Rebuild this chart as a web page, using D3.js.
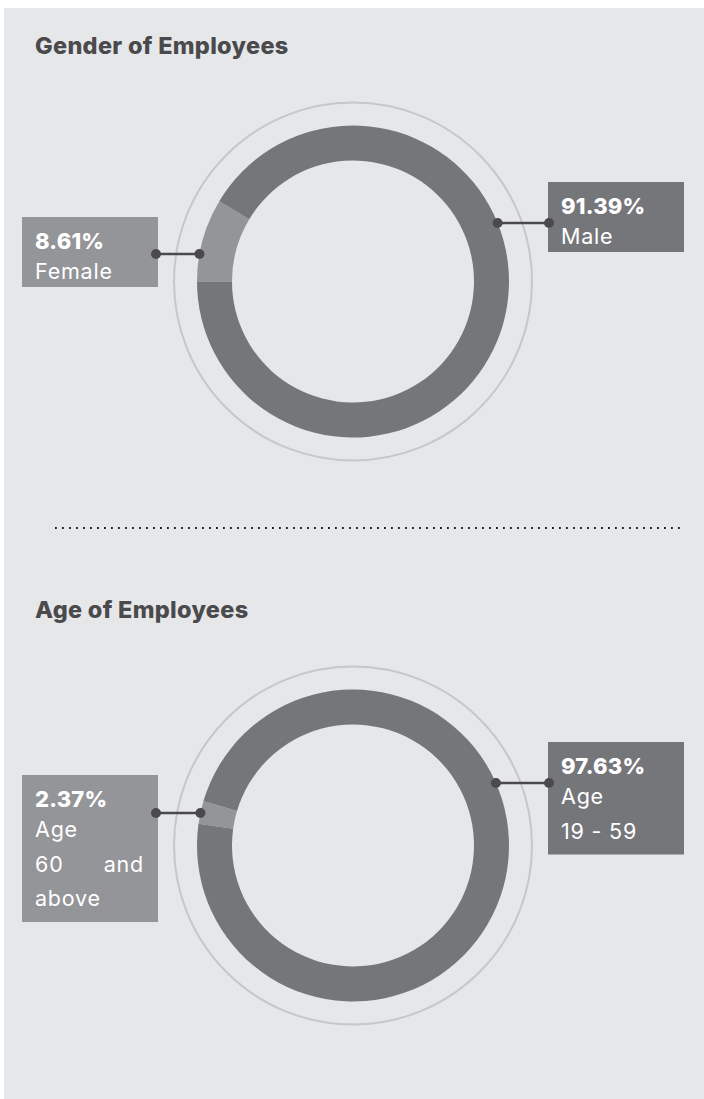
<!DOCTYPE html>
<html>
<head>
<meta charset="utf-8">
<script src="https://cdn.jsdelivr.net/npm/d3@7"></script>
<style>
  body { margin: 0; background: #fff; }
  text { font-family: Inter, "Open Sans", sans-serif; }
</style>
</head>
<body>
<div id="viz"></div>
<script>
// chart values
var genderLabels = ["Female", "Male"],
    genderValues = [8.61, 91.39],
    genderLines = [["Female"], ["Male"]];

var ageLabels = ["Age 60 and above", "Age 19 - 59"],
    ageValues = [2.37, 97.63],
    ageLines = [["Age", "60 and", "above"], ["Age", "19 - 59"]];

var width = 704,
    height = 1099;

var colors = ["#949598", "#75767a"],
    ink = "#4a4a4d";

var outerR = 156, innerR = 121, ringR = 179;

var svg = d3.select('#viz').append('svg')
  .attr('width', width)
  .attr('height', height);

svg.append('rect')
  .attr('x', 4).attr('y', 8)
  .attr('width', width - 4).attr('height', height - 8)
  .attr('fill', '#e6e7e9');

var charts = [
  { title: "Gender of Employees", titleY: 54, cx: 353, cy: 281.5, start: -90,
    labels: genderLabels, values: genderValues, lines: genderLines,
    // box top and leader y, relative to the center: [left, right]
    boxTop: [-64.5, -99.5], lead: [-27.5, -58.5] },
  { title: "Age of Employees", titleY: 618, cx: 353, cy: 845.5, start: -82,
    labels: ageLabels, values: ageValues, lines: ageLines,
    boxTop: [-70.5, -103.5], lead: [-32.5, -62.5] }
];

var arc = d3.arc().innerRadius(innerR).outerRadius(outerR);

function bodyText(sel) {
  return sel.attr('fill', '#fff')
    .attr('font-size', 21.5)
    .attr('font-weight', 400)
    .attr('letter-spacing', 0.8);
}

charts.forEach(function(c) {
  svg.append('text')
    .attr('x', 35).attr('y', c.titleY)
    .attr('fill', ink)
    .attr('font-size', 23.5)
    .attr('font-weight', 800)
    .attr('letter-spacing', 0.3)
    .text(c.title);

  var s = c.start * Math.PI / 180;
  var pie = d3.pie().sort(null).startAngle(s).endAngle(s + 2 * Math.PI);
  var arcs = pie(c.values);

  var g = svg.append('g')
    .attr('transform', 'translate(' + c.cx + ',' + c.cy + ')');

  g.append('circle')
    .attr('r', ringR)
    .attr('fill', 'none')
    .attr('stroke', '#c6c7c9')
    .attr('stroke-width', 2);

  g.selectAll('path.slice')
    .data(arcs)
    .join('path')
    .attr('class', 'slice')
    .attr('fill', (d, i) => colors[i])
    .attr('d', arc);

  // labels: index 0 on the left, index 1 on the right
  arcs.forEach(function(d, i) {
    var side = i === 0 ? -1 : 1;
    var ly = c.lead[i];
    var dotX = side * Math.sqrt(outerR * outerR - ly * ly);
    var boxW = 136;
    var boxX = side < 0 ? -c.cx + 22 : -c.cx + 548;
    var nearX = side < 0 ? boxX + boxW - 2 : boxX + 1;
    var lines = c.lines[i];
    var boxH = 32 + 30 + (lines.length - 1) * 34.5 + 16;
    if (lines.length === 1) boxH = 70;

    var box = g.append('g');
    box.append('rect')
      .attr('x', boxX).attr('y', c.boxTop[i])
      .attr('width', boxW).attr('height', boxH)
      .attr('fill', colors[i]);

    var tx = boxX + 13, tRight = boxX + boxW - 14;
    var by = c.boxTop[i] + 32;
    box.append('text')
      .attr('x', tx).attr('y', by)
      .attr('fill', '#fff')
      .attr('font-size', 22)
      .attr('font-weight', 800)
      .attr('letter-spacing', 0.2)
      .text(d.data.toFixed(2) + '%');

    lines.forEach(function(line, j) {
      var y = by + 30 + j * 34.5;
      var words = line.split(' ');
      var justify = j < lines.length - 1 && words.length > 1;
      if (!justify) {
        box.append('text')
          .attr('x', tx).attr('y', y)
          .call(bodyText)
          .text(line);
      } else {
        var ws = words.map(function(w) {
          var t = box.append('text').call(bodyText).text(w);
          var len = t.node().getComputedTextLength();
          t.remove();
          return len;
        });
        var total = d3.sum(ws);
        var gap = (tRight - tx - total) / (words.length - 1);
        var t = box.append('text')
          .attr('y', y)
          .call(bodyText);
        var cx0 = tx;
        words.forEach(function(w, k) {
          t.append('tspan').attr('x', cx0).text(w);
          cx0 += ws[k] + gap;
        });
      }
    });

    // leader
    g.append('line')
      .attr('x1', nearX).attr('y1', ly)
      .attr('x2', dotX).attr('y2', ly)
      .attr('stroke', ink)
      .attr('stroke-width', 2.5);
    [nearX, dotX].forEach(function(x) {
      g.append('circle')
        .attr('cx', x).attr('cy', ly)
        .attr('r', 5)
        .attr('fill', ink);
    });
  });
});

// dotted separator
svg.append('line')
  .attr('x1', 55).attr('x2', 680)
  .attr('y1', 528).attr('y2', 528)
  .attr('stroke', '#1a1a1a')
  .attr('stroke-width', 1.8)
  .attr('stroke-dasharray', '1.8,5.2');
</script>
</body>
</html>
